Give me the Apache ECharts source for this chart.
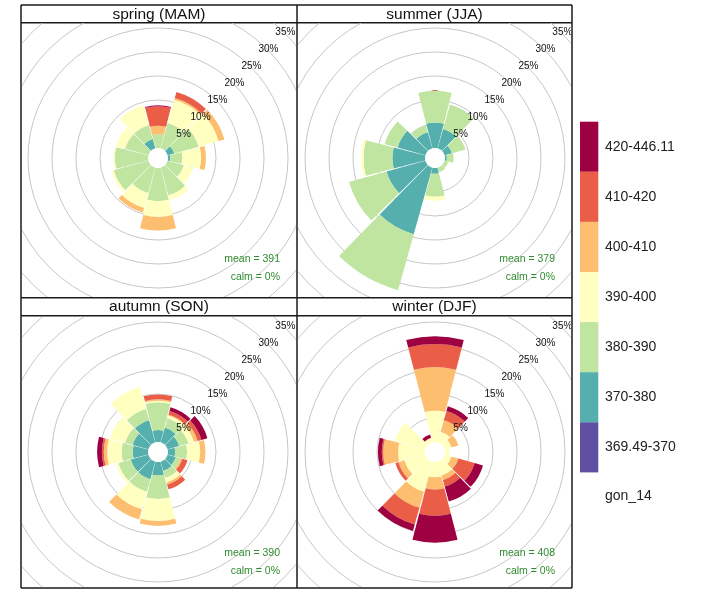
<!DOCTYPE html>
<html>
<head>
<meta charset="utf-8">
<script src="https://cdn.jsdelivr.net/npm/echarts@6/dist/echarts.min.js"></script>
<style>
html, body { margin: 0; padding: 0; background: #ffffff; }
#frame { position: absolute; left: 0; top: 0; width: 703px; height: 590px; }
.panel { position: absolute; overflow: hidden; }
</style>
</head>
<body>
<div id="frame"></div>
<div class="panel" id="p0" style="left:22px;top:23px;width:274px;height:274px"></div>
<div class="panel" id="p1" style="left:298px;top:23px;width:273px;height:274px"></div>
<div class="panel" id="p2" style="left:22px;top:317px;width:274px;height:270px"></div>
<div class="panel" id="p3" style="left:298px;top:317px;width:273px;height:270px"></div>
<script>
// wind sectors, clockwise from north (30 degree bins)
const directions = ['N', 'NNE', 'ENE', 'E', 'ESE', 'SSE', 'S', 'SSW', 'WSW', 'W', 'WNW', 'NNW'];

// concentration bins (inner to outer in each stack) and their colours
const binLabels = ['369.49-370', '370-380', '380-390', '390-400', '400-410', '410-420', '420-446.11'];
const binColors = ['#5E4FA2', '#55AFAD', '#BFE5A0', '#FFFFBF', '#FDBF6F', '#EA5D47', '#9E0142'];

const seasonTitles = ['spring (MAM)', 'summer (JJA)', 'autumn (SON)', 'winter (DJF)'];
const seasonMeans = [391, 379, 390, 408];
const seasonCalm = [0, 0, 0, 0];
const pollutantName = 'gon_14';

// frequency (%) per bin, one row per bin, one value per direction
const springFreq = [
  [0, 0, 0, 0, 0, 0, 0, 0, 0, 0, 0, 0],
  [0, 0, 1.4, 0.5, 0, 0, 0, 0, 0, 0, 0, 2.0],
  [2.9, 5.5, 5.3, 2.5, 3.5, 6.0, 6.9, 5.5, 7.5, 6.9, 5.0, 3.0],
  [0, 5.0, 4.3, 3.9, 2.0, 1.0, 3.3, 3.2, 0.5, 0.3, 2.0, 4.3],
  [1.75, 0.4, 1.3, 1.0, 0, 0, 2.8, 1.0, 0, 0, 0, 0],
  [4.05, 1.3, 0, 0, 0, 0, 0, 0, 0, 0, 0, 0],
  [0.2, 0, 0, 0, 0, 0, 0, 0, 0, 0, 0, 0]
];
const summerFreq = [
  [0, 0, 0, 0, 0, 0, 0, 0, 0, 0, 0, 0],
  [5.3, 4.2, 1.6, 0.4, 0, 0, 1.2, 14.4, 8.4, 6.8, 6.0, 3.5],
  [6.6, 5.3, 2.9, 1.4, 0.8, 1.0, 4.8, 12.1, 8.1, 6.0, 2.8, 1.5],
  [0, 0, 0, 0, 0, 0, 0.8, 0, 0, 0.5, 0, 0],
  [0, 0, 0, 0, 0, 0, 0, 0, 0, 0, 0, 0],
  [0, 0, 0, 0, 0, 0, 0, 0, 0, 0, 0, 0],
  [0, 0, 0, 0, 0, 0, 0, 0, 0, 0, 0, 0]
];
const autumnFreq = [
  [0, 0, 0, 0, 0, 0, 0, 0, 0, 0, 0, 0],
  [2.5, 3.2, 2.5, 1.5, 1.8, 2.0, 2.8, 3.8, 3.8, 3.2, 3.4, 4.8],
  [5.8, 2.0, 2.0, 2.5, 1.0, 1.5, 4.9, 2.7, 2.7, 2.3, 1.6, 2.4],
  [0.3, 0.6, 1.2, 2.7, 0, 1.0, 4.6, 3.8, 0.5, 3.0, 3.3, 4.8],
  [0.3, 0.2, 0.8, 1.1, 0.4, 0.5, 1.0, 2.2, 0, 0.7, 0, 0],
  [1.0, 0.8, 0.8, 0, 1.1, 1.0, 0, 0, 0, 0.4, 0, 0],
  [0, 0.8, 1.3, 0, 0, 0, 0, 0, 0, 1.0, 0, 0]
];
const winterFreq = [
  [0, 0, 0, 0, 0, 0, 0, 0, 0, 0, 0, 0],
  [0, 0, 0, 0, 0, 0, 0, 0, 0, 0, 0, 0],
  [0, 0, 0, 0, 0, 0, 0, 0, 0, 0, 0, 0],
  [6.5, 2.3, 1.5, 1.0, 1.5, 3.0, 3.2, 6.5, 4.5, 5.6, 6.6, 0.9],
  [9.1, 2.5, 1.5, 0, 1.5, 1.0, 2.5, 3.5, 1.3, 3.1, 0, 0.1],
  [4.8, 2.0, 0, 0, 3.5, 1.4, 5.5, 3.6, 0.7, 0.3, 0, 0],
  [1.6, 1.0, 0, 0, 1.8, 3.2, 5.6, 1.4, 0, 0.8, 0, 0.7]
];
const seasonFreq = [springFreq, summerFreq, autumnFreq, winterFreq];

// page layout (px)
const panelX = [21, 297, 572];
const rowLines = [5, 22.7, 297.7, 315.7, 588];
const panelDivs = [
  { id: 'p0', left: 22, top: 23 },
  { id: 'p1', left: 298, top: 23 },
  { id: 'p2', left: 22, top: 317 },
  { id: 'p3', left: 298, top: 317 }
];
const roseCenters = [[158, 158], [435, 158], [158, 452], [435, 452]];
const holeR = 10;        // radius of the empty centre
const pxPerPct = 4.8;    // radial scale
const axisMax = 40;
const labelFont = '"Liberation Sans", Arial, sans-serif';

// ---------- frame: borders, strips, key ----------
const frame = echarts.init(document.getElementById('frame'), null, { renderer: 'canvas' });
const frameGraphics = [];
panelX.forEach(function (x) {
  frameGraphics.push({ type: 'line', shape: { x1: x, y1: rowLines[0], x2: x, y2: rowLines[4] },
    style: { stroke: '#1a1a1a', lineWidth: 1.5 } });
});
rowLines.forEach(function (y) {
  frameGraphics.push({ type: 'line', shape: { x1: panelX[0], y1: y, x2: panelX[2], y2: y },
    style: { stroke: '#1a1a1a', lineWidth: 1.5 } });
});
seasonTitles.forEach(function (t, i) {
  const col = i % 2, row = Math.floor(i / 2);
  frameGraphics.push({ type: 'text', style: {
    text: t, x: (panelX[col] + panelX[col + 1]) / 2, y: (rowLines[row * 2] + rowLines[row * 2 + 1]) / 2 + 0.5,
    align: 'center', verticalAlign: 'middle', textAlign: 'center', textVerticalAlign: 'middle',
    font: '15.5px ' + labelFont, fill: '#111' } });
});
// colour key, highest bin on top
const keyX = 580, keyTop = 121.7, keyH = 50.1, keyW = 18.3;
for (let k = 0; k < binLabels.length; k++) {
  const b = binLabels.length - 1 - k;
  frameGraphics.push({ type: 'rect', shape: { x: keyX, y: keyTop + k * keyH, width: keyW, height: keyH },
    style: { fill: binColors[b] } });
  frameGraphics.push({ type: 'text', style: {
    text: binLabels[b], x: 605, y: keyTop + (k + 0.5) * keyH,
    align: 'left', verticalAlign: 'middle', textAlign: 'left', textVerticalAlign: 'middle',
    font: '14px ' + labelFont, fill: '#222' } });
}
frameGraphics.push({ type: 'text', style: {
  text: pollutantName, x: 605, y: 496, align: 'left', verticalAlign: 'middle',
  textAlign: 'left', textVerticalAlign: 'middle', font: '14px ' + labelFont, fill: '#222' } });
frame.setOption({ animation: false, graphic: { elements: frameGraphics } });

// ---------- one rose per season ----------
function hiddenAxis(extra) {
  return Object.assign({
    axisLine: { show: false }, axisTick: { show: false }, axisLabel: { show: false },
    splitLine: { show: false }, splitArea: { show: false }
  }, extra);
}

seasonFreq.forEach(function (freq, i) {
  const d = panelDivs[i];
  const el = document.getElementById(d.id);
  const chart = echarts.init(el, null, { renderer: 'canvas' });
  const cx = roseCenters[i][0] - d.left, cy = roseCenters[i][1] - d.top;
  const w = el.clientWidth;
  const ringInner = holeR + 5 * pxPerPct, outer = holeR + axisMax * pxPerPct;

  const series = binLabels.map(function (name, b) {
    return {
      type: 'bar', name: name, coordinateSystem: 'polar', polarIndex: 2, stack: 'rose',
      data: freq[b], barCategoryGap: '4%', silent: true,
      itemStyle: { color: binColors[b] }
    };
  });

  chart.setOption({
    animation: false,
    polar: [
      { center: [cx, cy], radius: [ringInner, outer] },
      { center: [cx, cy], radius: [ringInner, outer] },
      { center: [cx, cy], radius: [holeR, outer] }
    ],
    angleAxis: [
      hiddenAxis({ polarIndex: 0, type: 'value', min: 0, max: 360, startAngle: 45 }),
      hiddenAxis({ polarIndex: 1, type: 'value', min: 0, max: 360, startAngle: 45 }),
      hiddenAxis({ polarIndex: 2, type: 'category', data: directions, startAngle: 105, clockwise: true, boundaryGap: true })
    ],
    radiusAxis: [
      hiddenAxis({ polarIndex: 0, type: 'value', min: 5, max: axisMax, interval: 5, z: 0,
        splitLine: { show: true, lineStyle: { color: '#c6c6c6', width: 1 } } }),
      hiddenAxis({ polarIndex: 1, type: 'value', min: 5, max: axisMax, interval: 5, z: 10,
        axisLabel: { show: true, formatter: '{value}%', margin: 0, align: 'center', verticalAlign: 'middle',
          padding: [5, 0, 0, 3], showMinLabel: true, showMaxLabel: false, color: '#111', fontSize: 10, fontFamily: labelFont } }),
      hiddenAxis({ polarIndex: 2, type: 'value', min: 0, max: axisMax })
    ],
    series: series,
    graphic: { elements: [
      { type: 'text', z: 20, style: { text: 'mean = ' + seasonMeans[i], x: w - 16, y: cy + 101,
        align: 'right', verticalAlign: 'middle', textAlign: 'right', textVerticalAlign: 'middle',
        font: '10.5px ' + labelFont, fill: '#2e8b2e' } },
      { type: 'text', z: 20, style: { text: 'calm = ' + seasonCalm[i] + '%', x: w - 16, y: cy + 119,
        align: 'right', verticalAlign: 'middle', textAlign: 'right', textVerticalAlign: 'middle',
        font: '10.5px ' + labelFont, fill: '#2e8b2e' } }
    ] }
  });
});
</script>
</body>
</html>
